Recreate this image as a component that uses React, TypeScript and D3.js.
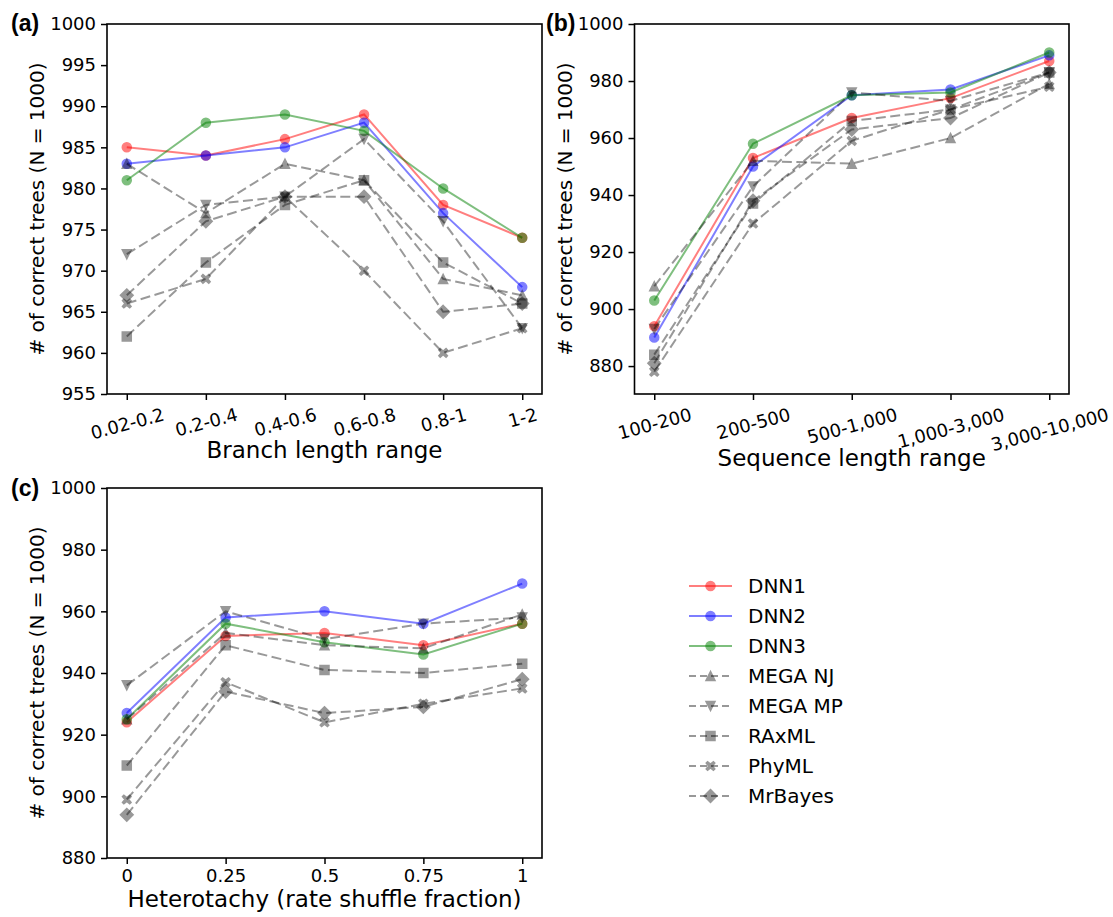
import React, { useEffect, useRef } from 'react';
import * as d3 from 'd3';

const FONT = 'DejaVu Sans';

const methods = ['DNN1', 'DNN2', 'DNN3', 'MEGA NJ', 'MEGA MP', 'RAxML', 'PhyML', 'MrBayes'];

// (a) branch length
const branchCats = ['0.02-0.2', '0.2-0.4', '0.4-0.6', '0.6-0.8', '0.8-1', '1-2'];
const branchDNN1 = [985, 984, 986, 989, 978, 974];
const branchDNN2 = [983, 984, 985, 988, 977, 968];
const branchDNN3 = [981, 988, 989, 987, 980, 974];
const branchNJ = [983, 977, 983, 981, 969, 967];
const branchMP = [972, 978, 979, 986, 976, 963];
const branchRAxML = [962, 971, 978, 981, 971, 966];
const branchPhyML = [966, 969, 979, 970, 960, 963];
const branchMrBayes = [967, 976, 979, 979, 965, 966];
const branchTicks = [955, 960, 965, 970, 975, 980, 985, 990, 995, 1000];

// (b) sequence length
const seqCats = ['100-200', '200-500', '500-1,000', '1,000-3,000', '3,000-10,000'];
const seqDNN1 = [894, 953, 967, 974, 987];
const seqDNN2 = [890, 950, 975, 977, 989];
const seqDNN3 = [903, 958, 975, 976, 990];
const seqNJ = [908, 952, 951, 960, 979];
const seqMP = [893, 943, 976, 973, 983];
const seqRAxML = [884, 937, 966, 970, 983];
const seqPhyML = [878, 930, 959, 970, 978];
const seqMrBayes = [881, 938, 963, 967, 983];
const seqTicks = [880, 900, 920, 940, 960, 980, 1000];

// (c) heterotachy
const hetCats = ['0', '0.25', '0.5', '0.75', '1'];
const hetDNN1 = [924, 952, 953, 949, 956];
const hetDNN2 = [927, 958, 960, 956, 969];
const hetDNN3 = [925, 956, 950, 946, 956];
const hetNJ = [925, 953, 949, 948, 959];
const hetMP = [936, 960, 951, 956, 958];
const hetRAxML = [910, 949, 941, 940, 943];
const hetPhyML = [899, 937, 924, 930, 935];
const hetMrBayes = [894, 934, 927, 929, 938];
const hetTicks = [880, 900, 920, 940, 960, 980, 1000];

const styles = [
  { color: '#ff0000', dashed: false, marker: 'o', alpha: 0.5 },
  { color: '#0000ff', dashed: false, marker: 'o', alpha: 0.5 },
  { color: '#008000', dashed: false, marker: 'o', alpha: 0.5 },
  { color: '#000000', dashed: true, marker: '^', alpha: 0.4 },
  { color: '#000000', dashed: true, marker: 'v', alpha: 0.4 },
  { color: '#000000', dashed: true, marker: 's', alpha: 0.4 },
  { color: '#000000', dashed: true, marker: 'X', alpha: 0.4 },
  { color: '#000000', dashed: true, marker: 'D', alpha: 0.4 },
];

const MS = 9;

function markerPath(m: string, s: number) {
  const h = s / 2;
  switch (m) {
    case '^':
      return `M0,${-h}L${-h},${h}L${h},${h}Z`;
    case 'v':
      return `M0,${h}L${-h},${-h}L${h},${-h}Z`;
    case 's':
      return `M${-h},${-h}H${h}V${h}H${-h}Z`;
    case 'D': {
      const d = h * Math.SQRT2;
      return `M0,${-d}L${d},0L0,${d}L${-d},0Z`;
    }
    case 'X': {
      const a = h * 0.95, t = h * 0.3;
      // X made of two crossing bars
      const pts: [number, number][] = [
        [0, -t * 1.4], [a - t, -a], [a, -a + t], [t * 1.4, 0], [a, a - t], [a - t, a],
        [0, t * 1.4], [-a + t, a], [-a, a - t], [-t * 1.4, 0], [-a, -a + t], [-a + t, -a],
      ];
      return 'M' + pts.map(p => p.join(',')).join('L') + 'Z';
    }
    default:
      return d3.symbol(d3.symbolCircle, Math.PI * h * h)()!;
  }
}

const panels = [
  {
    tag: '(a)', tagX: 11, tagY: 31,
    cats: branchCats,
    series: [branchDNN1, branchDNN2, branchDNN3, branchNJ, branchMP, branchRAxML, branchPhyML, branchMrBayes],
    yDomain: [955, 1000], yTicks: branchTicks,
    left: 107, right: 542, top: 24, bottom: 394, pad: 0.25,
    rotate: true, xlabel: 'Branch length range', xlabelY: 458, ylabelX: 37,
  },
  {
    tag: '(b)', tagX: 546, tagY: 31,
    cats: seqCats,
    series: [seqDNN1, seqDNN2, seqDNN3, seqNJ, seqMP, seqRAxML, seqPhyML, seqMrBayes],
    yDomain: [870.2, 1000], yTicks: seqTicks,
    left: 634.5, right: 1069, top: 24, bottom: 394, pad: 0.2,
    rotate: true, xlabel: 'Sequence length range', xlabelY: 466, ylabelX: 565,
  },
  {
    tag: '(c)', tagX: 11, tagY: 496,
    cats: hetCats,
    series: [hetDNN1, hetDNN2, hetDNN3, hetNJ, hetMP, hetRAxML, hetPhyML, hetMrBayes],
    yDomain: [880, 1000], yTicks: hetTicks,
    left: 107, right: 542, top: 488, bottom: 858, pad: 0.2,
    rotate: false, xlabel: 'Heterotachy (rate shuffle fraction)', xlabelY: 907, ylabelX: 36.5,
  },
];

const App = () => {
  const ref = useRef<SVGSVGElement>(null);

  useEffect(() => {
    const svg = d3.select(ref.current!);
    svg.selectAll('*').remove();

    panels.forEach(p => {
      const x = d3.scalePoint<string>().domain(p.cats).range([p.left, p.right]).padding(p.pad);
      const y = d3.scaleLinear().domain(p.yDomain).range([p.bottom, p.top]);
      const g = svg.append('g');

      // y axis
      const ya = g.append('g')
        .attr('transform', `translate(${p.left},0)`)
        .call(d3.axisLeft(y).tickValues(p.yTicks).tickSize(6).tickPadding(5).tickFormat(d3.format('d')));
      ya.select('.domain').remove();
      ya.attr('font-family', FONT).attr('font-size', 18);
      ya.selectAll('line').attr('stroke-width', 1.5);
      ya.selectAll('text').attr('fill', '#000');

      // x axis
      const xa = g.append('g')
        .attr('transform', `translate(0,${p.bottom})`)
        .call(d3.axisBottom(x).tickSize(6).tickPadding(5));
      xa.select('.domain').remove();
      xa.attr('font-family', FONT).attr('font-size', 18);
      xa.selectAll('line').attr('stroke-width', 1.5);
      xa.selectAll('text').attr('fill', '#000');
      if (p.rotate) {
        xa.selectAll<SVGTextElement, string>('text').each(function () {
          const w = this.getComputedTextLength();
          const fs = 18;
          const a = (15 * Math.PI) / 180;
          const bh = w * Math.sin(a) + fs * Math.cos(a);
          const cy = 6 + 5 + bh / 2;
          d3.select(this)
            .attr('y', cy)
            .attr('dy', null)
            .attr('dominant-baseline', 'central')
            .attr('transform', `rotate(-15,0,${cy})`);
        });
      }

      // series
      p.series.forEach((vals, si) => {
        const st = styles[si];
        const line = d3.line<number>()
          .x((_, i) => x(p.cats[i])!)
          .y(v => y(v));
        g.append('path')
          .attr('d', line(vals))
          .attr('fill', 'none')
          .attr('stroke', st.color)
          .attr('stroke-width', 2)
          .attr('stroke-dasharray', st.dashed ? '10,4.5' : null)
          .attr('opacity', st.alpha);
        g.selectAll(null)
          .data(vals)
          .enter()
          .append('path')
          .attr('d', markerPath(st.marker, MS))
          .attr('transform', (v, i) => `translate(${x(p.cats[i])},${y(v)})`)
          .attr('fill', st.color)
          .attr('stroke', st.color)
          .attr('stroke-width', 1.5)
          .attr('opacity', st.alpha);
      });

      // frame
      g.append('rect')
        .attr('x', p.left).attr('y', p.top)
        .attr('width', p.right - p.left).attr('height', p.bottom - p.top)
        .attr('fill', 'none').attr('stroke', '#000').attr('stroke-width', 1.6);

      // labels
      g.append('text')
        .attr('transform', `translate(${p.ylabelX},${(p.top + p.bottom) / 2}) rotate(-90)`)
        .attr('text-anchor', 'middle')
        .attr('dominant-baseline', 'central')
        .attr('font-family', FONT).attr('font-size', 20)
        .text('# of correct trees (N = 1000)');
      g.append('text')
        .attr('x', (p.left + p.right) / 2).attr('y', p.xlabelY)
        .attr('text-anchor', 'middle')
        .attr('font-family', FONT).attr('font-size', 23)
        .text(p.xlabel);
      g.append('text')
        .attr('x', p.tagX).attr('y', p.tagY)
        .attr('font-family', 'Liberation Sans').attr('font-weight', 'bold').attr('font-size', 23)
        .text(p.tag);
    });

    // legend
    const legend = svg.append('g').attr('transform', 'translate(689,586)');
    methods.forEach((name, i) => {
      const st = styles[i];
      const row = legend.append('g').attr('transform', `translate(0,${i * 30})`);
      row.append('line')
        .attr('x1', 0).attr('x2', 43).attr('y1', 0).attr('y2', 0)
        .attr('stroke', st.color).attr('stroke-width', 2)
        .attr('stroke-dasharray', st.dashed ? '7,4' : null)
        .attr('opacity', st.alpha);
      row.append('path')
        .attr('d', markerPath(st.marker, MS))
        .attr('transform', 'translate(21.5,0)')
        .attr('fill', st.color).attr('stroke', st.color).attr('stroke-width', 1.5)
        .attr('opacity', st.alpha);
      row.append('text')
        .attr('x', 59).attr('y', 0)
        .attr('dominant-baseline', 'central')
        .attr('font-family', FONT).attr('font-size', 20)
        .text(name);
    });
  }, []);

  return (
    <svg
      ref={ref}
      width={1113}
      height={917}
      style={{ position: 'absolute', left: 0, top: 0, background: '#fff' }}
    />
  );
};

export default App;
